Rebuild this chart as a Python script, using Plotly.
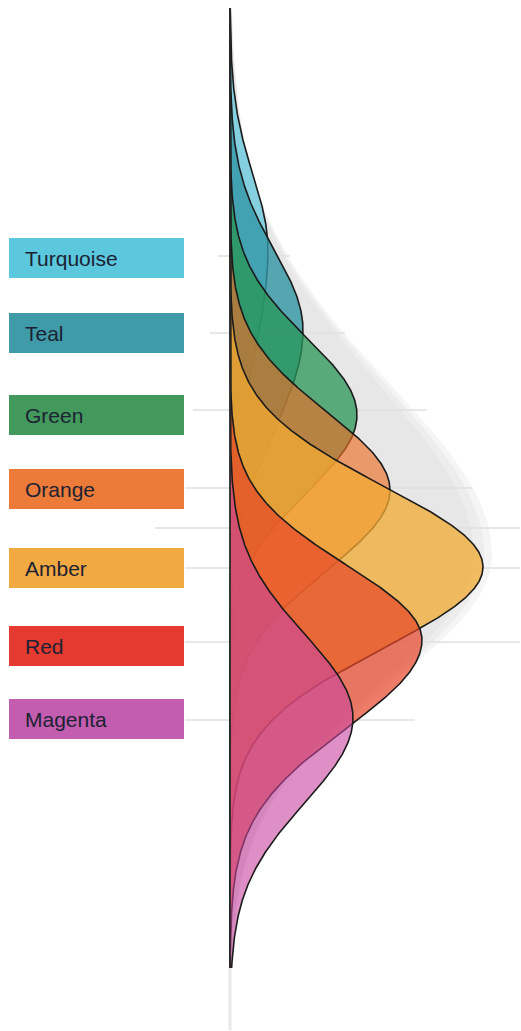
import numpy as np
import plotly.graph_objects as go

# Categories, stacked top to bottom along the value axis
categories = ["Turquoise", "Teal", "Green", "Orange", "Amber", "Red", "Magenta"]
label_colors = ["#5CC8DD", "#3E9BA7", "#43995B", "#EC7B3A", "#F1A941", "#E43A2F", "#C25DAF"]
fill_colors = [
    "rgba(100,200,222,0.75)",
    "rgba(50,150,165,0.80)",
    "rgba(40,150,85,0.75)",
    "rgba(235,110,40,0.65)",
    "rgba(242,170,50,0.75)",
    "rgba(230,70,40,0.70)",
    "rgba(200,70,160,0.60)",
]

# Label rows (value-axis position of each label)
label_pos = [25.8, 33.3, 41.5, 48.9, 56.8, 64.6, 71.9]

# Density curve parameters per category
peak_pos = [25.0, 33.0, 41.5, 49.0, 56.7, 64.0, 71.8]
peak_height = [0.38, 0.73, 1.27, 1.60, 2.53, 1.92, 1.23]
spread_above = [7.5, 8.0, 7.7, 7.8, 8.1, 7.5, 8.4]
spread_below = [11.0, 10.0, 7.7, 8.0, 8.1, 8.8, 8.5]

# Soft backdrop envelope behind the curves
shadow_pos = 55.5
shadow_height = 2.62
shadow_above = 17.2
shadow_below = 13.0

# Thin reference rules
rule_pos = [25.6, 33.3, 41.0, 48.8, 52.8, 56.8, 64.2, 72.0]
rule_start = [-0.12, -0.20, -0.37, -0.45, -0.75, -0.45, -0.45, -0.45]
rule_end = [0.60, 1.15, 1.97, 2.42, 2.90, 2.90, 2.90, 1.85]

axis_top, axis_bottom = 0.8, 96.8


def split_normal(y, center, height, s_up, s_dn):
    s = np.where(y < center, s_up, s_dn)
    return height * np.exp(-0.5 * ((y - center) / s) ** 2)


ys = np.linspace(axis_top, axis_bottom, 1201)

fig = go.Figure()

# backdrop, layered for a soft edge
for k, alpha in [(1.0, 0.35), (0.97, 0.4), (0.93, 0.45)]:
    xs = split_normal(ys, shadow_pos, shadow_height * k, shadow_above, shadow_below)
    fig.add_trace(go.Scatter(
        x=xs, y=ys, mode="lines", fill="tozerox",
        fillcolor=f"rgba(225,225,225,{alpha})", line=dict(width=0),
        hoverinfo="skip", showlegend=False,
    ))

# density curves, first category at the bottom of the drawing order
for i, name in enumerate(categories):
    xs = split_normal(ys, peak_pos[i], peak_height[i], spread_above[i], spread_below[i])
    fig.add_trace(go.Scatter(
        x=xs, y=ys, mode="lines", fill="tozerox", name=name,
        fillcolor=fill_colors[i], line=dict(color="#1b1b1b", width=1.6),
        showlegend=False,
    ))

# value axis
fig.add_trace(go.Scatter(
    x=[0, 0], y=[axis_top, axis_bottom], mode="lines",
    line=dict(color="#2a2a2a", width=1.8), hoverinfo="skip", showlegend=False,
))
fig.add_trace(go.Scatter(
    x=[0, 0], y=[axis_bottom, 103.0], mode="lines",
    line=dict(color="rgba(215,215,215,0.6)", width=3), hoverinfo="skip", showlegend=False,
))

shapes = []
for p, a, b in zip(rule_pos, rule_start, rule_end):
    shapes.append(dict(type="line", xref="x", yref="y", x0=a, x1=b, y0=p, y1=p,
                       line=dict(color="#cfcfcf", width=1), layer="below"))

annotations = []
for name, c, p in zip(categories, label_colors, label_pos):
    shapes.append(dict(type="rect", xref="x", yref="y", x0=-2.21, x1=-0.46,
                       y0=p - 2.0, y1=p + 2.0, fillcolor=c, line=dict(width=0)))
    annotations.append(dict(x=-2.07, y=p, xref="x", yref="y", text=name,
                            showarrow=False, xanchor="left", yanchor="middle",
                            font=dict(family="Liberation Sans, Arial, sans-serif",
                                      size=21, color="#1b2233")))

fig.update_layout(
    width=521, height=1031,
    margin=dict(l=0, r=0, t=0, b=0),
    paper_bgcolor="white", plot_bgcolor="white",
    xaxis=dict(range=[-2.30, 2.91], visible=False, fixedrange=True),
    yaxis=dict(range=[103.1, 0], visible=False, fixedrange=True),
    shapes=shapes, annotations=annotations,
)

fig.write_html("out.html")
